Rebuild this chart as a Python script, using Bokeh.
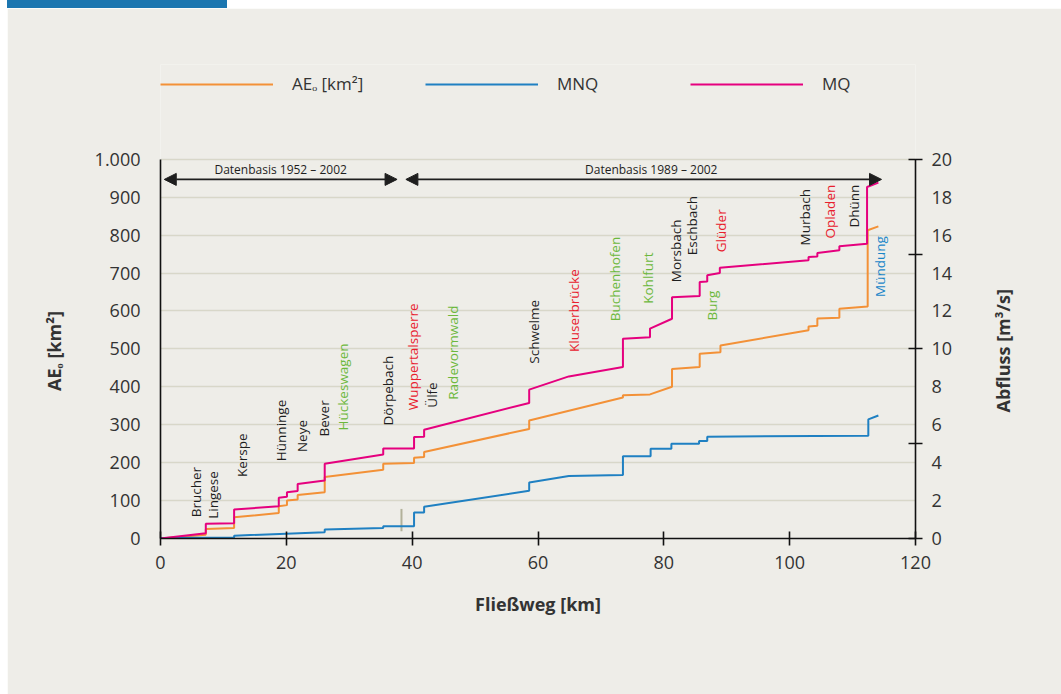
import math
from bokeh.plotting import figure
from bokeh.models import (Range1d, LinearAxis, FixedTicker, Legend, LegendItem,
                          Arrow, NormalHead, ColumnDataSource, InlineStyleSheet)
from bokeh.core.properties import value
from bokeh.embed import file_html
from bokeh.resources import INLINE

# ---------------- data ----------------
# AEo [km2] along the flow path
ae_km = [0, 7.2, 7.2, 11.7, 11.7, 18.8, 18.8, 20.1, 20.1, 21.8, 21.8, 26.1, 26.1,
         35.4, 35.4, 40.3, 40.3, 41.9, 41.9, 58.6, 58.6, 73.5, 73.5, 77.8, 81.3,
         81.3, 85.7, 85.7, 89.0, 89.0, 103.0, 103.0, 104.4, 104.4, 107.9, 107.9,
         112.4, 112.4, 114.1]
ae_val = [0, 10, 25, 28, 56, 67, 85, 88, 100, 103, 115, 122, 162,
          181, 197, 199, 213, 215, 228, 289, 311, 372, 378, 380, 400,
          447, 452, 487, 491, 509, 549, 559, 561, 580, 582, 606,
          612, 813, 823]

# MQ [m3/s]
mq_km = [0, 7.2, 7.2, 11.7, 11.7, 18.8, 18.8, 20.1, 20.1, 21.8, 21.8, 26.1, 26.1,
         35.4, 35.4, 40.3, 40.3, 41.9, 41.9, 58.6, 58.6, 64.9, 73.5, 73.5, 77.8,
         77.8, 81.3, 81.3, 85.7, 85.7, 86.9, 86.9, 88.9, 88.9, 103.0, 103.0, 104.4,
         104.4, 107.9, 107.9, 112.3, 112.3, 114.1]
mq_val = [0, 0.28, 0.78, 0.81, 1.53, 1.70, 2.15, 2.20, 2.44, 2.50, 2.87, 3.06, 3.94,
          4.43, 4.75, 4.75, 5.35, 5.37, 5.74, 7.15, 7.85, 8.55, 9.04, 10.54, 10.62,
          11.07, 11.59, 12.73, 12.79, 13.53, 13.55, 13.88, 14.00, 14.28, 14.67, 14.85, 14.87,
          15.06, 15.20, 15.41, 15.55, 18.54, 18.77]

# MNQ [m3/s]
mnq_km = [0, 11.7, 11.7, 26.1, 26.1, 35.4, 35.4, 40.3, 40.3, 41.9, 41.9, 58.6, 58.6,
          64.9, 73.5, 73.5, 77.9, 77.9, 81.2, 81.2, 85.6, 85.6, 86.9, 86.9, 112.5,
          112.5, 114.1]
mnq_val = [0.02, 0.05, 0.15, 0.33, 0.47, 0.56, 0.65, 0.65, 1.37, 1.37, 1.67, 2.52, 2.95,
           3.30, 3.35, 4.34, 4.34, 4.73, 4.73, 5.00, 5.00, 5.14, 5.14, 5.37, 5.42,
           6.28, 6.49]

stations = ["Brucher", "Lingese", "Kerspe", "Hünninge", "Neye", "Bever", "Hückeswagen",
            "Dörpebach", "Wuppertalsperre", "Ülfe", "Radevormwald", "Schwelme",
            "Kluserbrücke", "Buchenhofen", "Kohlfurt", "Morsbach", "Eschbach", "Burg",
            "Glüder", "Murbach", "Opladen", "Dhünn", "Mündung"]
station_km = [5.7, 8.3, 13.0, 19.1, 22.5, 26.0, 29.0, 36.1, 40.1, 43.2, 46.5, 59.3,
              65.8, 72.3, 77.5, 81.9, 84.4, 87.7, 89.1, 102.4, 106.4, 110.3, 114.4]
station_kind = ["k", "k", "k", "k", "k", "k", "g", "k", "r", "k", "g", "k",
                "r", "g", "g", "k", "k", "g", "r", "k", "r", "k", "b"]

x_ticks = [0, 20, 40, 60, 80, 100, 120]
y_ticks = [0, 100, 200, 300, 400, 500, 600, 700, 800, 900, 1000]
q_ticks = [0, 2, 4, 6, 8, 10, 12, 14, 16, 18, 20]
q_marks = [0, 5, 10, 15, 20]

# ---------------- layout / style ----------------
label_bottom = [56, 52, 162, 204, 228, 269, 285, 298, 338, 345, 366, 461,
                492, 573, 619, 676, 747, 575, 755, 773, 791, 820, 637]
kind_color = {"k": "#1e1e1e", "g": "#6cb83c", "r": "#e8202d", "b": "#1a86c8"}
BG = "#eeede8"
TXT = "#333333"
FONT = "Open Sans"
C_AE, C_MNQ, C_MQ = "#f39137", "#1f80c2", "#e5007e"
# invisible padding that shifts the axis titles to the centre of the 0..1000 span
PAD = "\u2003" * 5 + "\u2002"

# frame is extended upward (to 1250) so the legend can sit inside it;
# axes/grid are bounded to the 0..1000 (0..20) data span
p = figure(frame_width=755, frame_height=474,
           min_border_left=153, min_border_right=146,
           min_border_top=56, min_border_bottom=156,
           x_range=Range1d(0, 120), y_range=Range1d(0, 1250),
           output_backend="svg", toolbar_location=None,
           background_fill_color=BG, border_fill_color=BG)
try:
    p.styles = {"margin-top": "8px", "margin-left": "7px", "position": "relative"}
    p.stylesheets = [InlineStyleSheet(css=":host::before{content:'';position:absolute;"
                                          "left:0;top:-8px;width:220px;height:8px;"
                                          "background:#1b76b0;}")]
except Exception:
    pass
p.outline_line_color = None
p.extra_y_ranges = {"q": Range1d(0, 25)}

# axes
p.xaxis.ticker = FixedTicker(ticks=x_ticks)
p.yaxis.ticker = FixedTicker(ticks=y_ticks)
p.yaxis.bounds = (0, 1000)
p.yaxis.major_label_overrides = {1000: "1.000"}
for ax in (p.xaxis[0], p.yaxis[0]):
    ax.axis_line_color = "#111111"
    ax.axis_line_width = 1.6
    ax.major_label_text_font = FONT
    ax.major_label_text_font_size = "18px"
    ax.major_label_text_color = TXT
    ax.axis_label_text_font = FONT
    ax.axis_label_text_font_size = "18px"
    ax.axis_label_text_font_style = "bold"
    ax.axis_label_text_color = TXT
    ax.minor_tick_line_color = None
    ax.major_tick_line_color = "#111111"
    ax.major_tick_line_width = 1.6

p.xaxis.major_tick_in = 7
p.xaxis.major_tick_out = 7
p.xaxis.major_label_standoff = 10
p.xaxis.axis_label = "Fließweg [km]"
p.xaxis.axis_label_standoff = 20

p.yaxis.major_tick_in = 0
p.yaxis.major_tick_out = 0
p.yaxis.major_label_standoff = 20
p.yaxis.axis_label = "AEₒ [km²]" + PAD
p.yaxis.axis_label_standoff = 26

ax_r = LinearAxis(y_range_name="q", bounds=(0, 20),
                  ticker=FixedTicker(ticks=q_ticks, minor_ticks=q_marks))
ax_r.axis_line_color = "#111111"
ax_r.axis_line_width = 1.6
ax_r.major_tick_in = 0
ax_r.major_tick_out = 0
ax_r.minor_tick_in = 7
ax_r.minor_tick_out = 7
ax_r.minor_tick_line_color = "#111111"
ax_r.minor_tick_line_width = 1.6
ax_r.major_label_standoff = 9
ax_r.major_label_text_font = FONT
ax_r.major_label_text_font_size = "18px"
ax_r.major_label_text_color = TXT
ax_r.axis_label_text_font = FONT
ax_r.axis_label_text_font_size = "18px"
ax_r.axis_label_text_font_style = "bold"
ax_r.axis_label_text_color = TXT
ax_r.axis_label_standoff = 48
try:
    ax_r.axis_label_orientation = math.pi / 2
except Exception:
    pass
try:
    ax_r.axis_label_align = "start"
    ax_r.axis_label = "\u2003" * 7 + "Abfluss [m³/s]"
except Exception:
    ax_r.axis_label = "Abfluss [m³/s]"
p.add_layout(ax_r, "right")

p.xgrid.visible = False
p.ygrid.ticker = FixedTicker(ticks=y_ticks)
p.ygrid.grid_line_color = "#d8d7c9"
p.ygrid.grid_line_width = 1.6

# divider tick between data periods
p.segment(x0=[38.3], y0=[19], x1=[38.3], y1=[78], line_color="#b2b19a", line_width=2)

# series
r_ae = p.line(ae_km, ae_val, line_color=C_AE, line_width=2)
r_mnq = p.line(mnq_km, mnq_val, line_color=C_MNQ, line_width=2, y_range_name="q")
r_mq = p.line(mq_km, mq_val, line_color=C_MQ, line_width=2, y_range_name="q")

# station labels
src = ColumnDataSource(dict(x=station_km, y=label_bottom, t=stations,
                            c=[kind_color[k] for k in station_kind]))
p.text(x="x", y="y", text="t", source=src, angle=math.pi / 2,
       text_align="left", text_baseline="middle", text_color="c",
       text_font=value(FONT), text_font_size="13.5px")

# data period arrows
for xs, xe in ((0.6, 37.6), (39.0, 114.6)):
    p.add_layout(Arrow(start=NormalHead(size=12, fill_color="#1e1e1e", line_color="#1e1e1e"),
                       end=NormalHead(size=12, fill_color="#1e1e1e", line_color="#1e1e1e"),
                       x_start=xs, y_start=947, x_end=xe, y_end=947,
                       line_color="#1e1e1e", line_width=1.6))
p.text(x=[19.1, 78.0], y=[972, 972],
       text=["Datenbasis 1952 – 2002", "Datenbasis 1989 – 2002"],
       text_align="center", text_baseline="middle", text_color="#1e1e1e",
       text_font=value(FONT), text_font_size="12px")

# legend entries at a fixed 265 px pitch, above the 0..1000 area
for i, (r, lab) in enumerate(((r_ae, "AEₒ [km²]"), (r_mnq, "MNQ"), (r_mq, "MQ"))):
    lg = Legend(items=[LegendItem(label=lab, renderers=[r])],
                location=(265 * i, 443), orientation="horizontal",
                glyph_width=113, glyph_height=20, label_height=20,
                label_standoff=19, padding=0, margin=0,
                border_line_alpha=0, background_fill_alpha=0,
                label_text_font=FONT, label_text_font_size="17px",
                label_text_color=TXT)
    p.add_layout(lg)

open("out.html", "w").write(file_html(p, INLINE))
